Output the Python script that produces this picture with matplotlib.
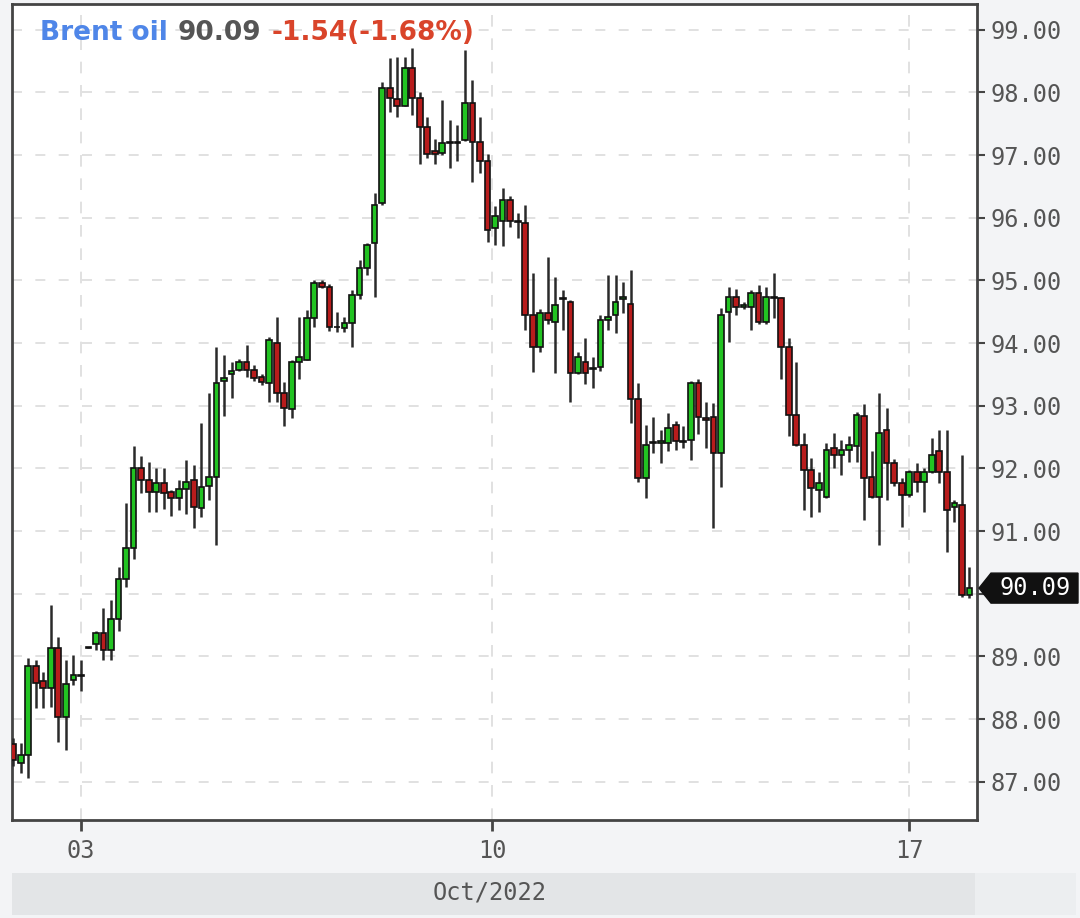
import matplotlib
matplotlib.use("Agg")
import matplotlib.pyplot as plt
from matplotlib.patches import Rectangle, Polygon
import numpy as np

# ---- data (intraday candles, Brent oil, Oct 2022) ----
opens = [87.60, 87.30, 87.43, 88.84, 88.60, 88.50, 89.14, 88.04, 88.62, 88.70,
         89.13, 89.20, 89.37, 89.10, 89.59, 90.24, 90.73, 92.00, 91.82, 91.62,
         91.77, 91.63, 91.53, 91.67, 91.82, 91.37, 91.72, 91.87, 93.40, 93.50,
         93.57, 93.70, 93.57, 93.46, 93.37, 94.00, 93.20, 92.95, 93.70, 93.73,
         94.40, 94.96, 94.90, 94.26, 94.24, 94.32, 94.76, 95.20, 95.59, 96.24,
         98.07, 97.90, 97.79, 98.39, 97.91, 97.44, 97.06, 97.04, 97.20, 97.20,
         97.24, 97.83, 97.21, 96.91, 95.84, 95.94, 96.29, 95.95, 95.92, 94.45,
         93.93, 94.48, 94.34, 94.70, 94.66, 93.53, 93.70, 93.58, 93.62, 94.37,
         94.45, 94.70, 94.63, 93.10, 91.85, 92.40, 92.41, 92.41, 92.70, 92.43,
         92.46, 93.37, 92.80, 92.82, 92.25, 94.50, 94.74, 94.58, 94.58, 94.80,
         94.34, 94.72, 94.72, 93.93, 92.86, 92.38, 91.98, 91.66, 91.55, 92.33,
         92.22, 92.30, 92.35, 92.84, 91.87, 91.55, 92.62, 92.09, 91.77, 91.58,
         91.95, 91.79, 91.95, 92.27, 91.95, 91.38, 91.42, 89.98]
highs = [87.70, 87.62, 88.98, 88.95, 88.75, 89.82, 89.31, 88.95, 89.02, 88.95,
         89.15, 89.40, 89.78, 89.90, 90.43, 91.45, 92.35, 92.20, 92.10, 92.00,
         92.00, 91.66, 91.82, 92.14, 92.06, 92.73, 93.20, 93.94, 93.81, 93.69,
         93.75, 93.97, 93.65, 93.50, 94.10, 94.42, 93.38, 93.73, 94.42, 94.52,
         95.00, 95.00, 94.95, 94.50, 94.42, 94.85, 95.33, 95.60, 96.40, 98.17,
         98.55, 98.57, 98.57, 98.71, 98.00, 97.60, 97.25, 97.88, 97.56, 97.48,
         98.68, 98.20, 97.60, 97.01, 96.18, 96.48, 96.35, 96.08, 96.21, 95.12,
         94.55, 95.38, 95.06, 94.85, 94.69, 93.85, 94.08, 93.77, 94.45, 95.09,
         95.09, 94.98, 95.17, 93.37, 92.70, 92.82, 92.62, 92.89, 92.75, 92.67,
         93.40, 93.43, 93.06, 93.05, 94.56, 94.90, 94.87, 94.65, 94.85, 94.93,
         94.90, 95.12, 94.74, 94.08, 93.69, 92.57, 92.17, 91.95, 92.41, 92.57,
         92.46, 92.52, 92.90, 93.02, 92.27, 93.21, 92.97, 92.15, 91.85, 91.98,
         92.09, 92.01, 92.49, 92.62, 92.62, 91.50, 92.22, 90.42]
lows = [87.25, 87.14, 87.06, 88.18, 88.18, 88.20, 87.64, 87.51, 88.55, 88.45,
        89.13, 89.10, 88.95, 88.95, 89.40, 90.10, 90.55, 91.60, 91.30, 91.30,
        91.35, 91.24, 91.34, 91.27, 91.05, 91.23, 91.50, 90.77, 92.83, 93.13,
        93.55, 93.46, 93.40, 93.33, 93.06, 93.06, 92.67, 92.81, 93.42, 93.73,
        94.25, 94.88, 94.20, 94.17, 94.17, 93.93, 94.70, 95.09, 94.74, 96.20,
        97.69, 97.60, 97.78, 97.64, 96.85, 96.95, 96.85, 97.00, 96.80, 96.90,
        97.22, 96.57, 96.72, 95.62, 95.57, 95.55, 95.85, 95.68, 94.21, 93.54,
        93.85, 94.30, 93.53, 94.21, 93.06, 93.50, 93.34, 93.29, 93.55, 94.21,
        94.16, 94.48, 92.73, 91.79, 91.53, 92.25, 92.09, 92.27, 92.30, 92.33,
        92.14, 92.55, 92.33, 91.05, 91.71, 94.02, 94.45, 94.55, 94.21, 94.30,
        94.30, 94.40, 93.42, 92.51, 92.35, 91.34, 91.23, 91.31, 91.53, 92.01,
        91.90, 92.10, 92.10, 91.18, 91.53, 90.78, 91.50, 91.72, 91.07, 91.55,
        91.63, 91.31, 91.93, 91.77, 90.67, 91.15, 89.95, 89.94]
closes = [87.35, 87.42, 88.84, 88.58, 88.50, 89.14, 88.04, 88.56, 88.70, 88.68,
          89.15, 89.38, 89.10, 89.59, 90.24, 90.73, 92.00, 91.82, 91.62, 91.77,
          91.60, 91.52, 91.67, 91.78, 91.39, 91.71, 91.87, 93.37, 93.45, 93.55,
          93.70, 93.57, 93.45, 93.38, 94.05, 93.20, 92.97, 93.70, 93.77, 94.40,
          94.96, 94.90, 94.26, 94.25, 94.32, 94.76, 95.20, 95.57, 96.21, 98.07,
          97.91, 97.79, 98.39, 97.91, 97.44, 97.01, 97.02, 97.20, 97.19, 97.21,
          97.83, 97.21, 96.90, 95.81, 96.02, 96.29, 95.94, 95.93, 94.45, 93.93,
          94.48, 94.37, 94.61, 94.72, 93.53, 93.78, 93.53, 93.60, 94.37, 94.42,
          94.66, 94.73, 93.10, 91.85, 92.38, 92.42, 92.43, 92.65, 92.43, 92.42,
          93.37, 92.82, 92.78, 92.25, 94.45, 94.74, 94.58, 94.60, 94.80, 94.34,
          94.74, 94.73, 93.93, 92.86, 92.38, 91.98, 91.69, 91.77, 92.30, 92.22,
          92.30, 92.38, 92.86, 91.85, 91.55, 92.57, 92.09, 91.77, 91.58, 91.95,
          91.79, 91.95, 92.22, 91.95, 91.34, 91.45, 89.98, 90.09]

date_ticks = [9, 63.6, 119]
date_labels = ["03", "10", "17"]
price_ticks = [87, 88, 89, 90, 91, 92, 93, 94, 95, 96, 97, 98, 99]
instrument = "Brent oil"
last_price = "90.09"
change_text = "-1.54(-1.68%)"
period_label = "Oct/2022"

# ---- figure ----
W, H = 1080, 918
fig = plt.figure(figsize=(W / 100, H / 100), dpi=100, facecolor="#f3f4f6")

# bottom band
fig.patches.append(Rectangle((12 / W, (918 - 915) / H), (975 - 12) / W, 42 / H,
                             transform=fig.transFigure, facecolor="#e3e5e7",
                             edgecolor="none", zorder=0))
fig.patches.append(Rectangle((975 / W, (918 - 915) / H), (1076 - 975) / W, 42 / H,
                             transform=fig.transFigure, facecolor="#eceef0",
                             edgecolor="none", zorder=0))

ax = fig.add_axes([12 / W, (918 - 820) / H, (977 - 12) / W, (820 - 4) / H])
ax.set_facecolor("white")

o = np.array(opens); h = np.array(highs); l = np.array(lows); c = np.array(closes)
x = np.arange(len(o))
up = c >= o
colors = np.where(up, "#22c322", "#b81c1c")

ax.vlines(x, l, h, color="#2a2a2a", linewidth=1.8, zorder=3)
body_h = np.maximum(np.abs(c - o), 0.012)
ax.bar(x, body_h, bottom=np.minimum(o, c), width=0.76, color=colors,
       edgecolor="#111111", linewidth=1.2, zorder=4)

ax.set_xlim(-0.15, 128.0)
ax.set_ylim(86.39, 99.41)

# grid
for yv in price_ticks:
    ax.axhline(yv, color="#dcdcdc", linewidth=1.2, linestyle=(0, (6, 8)), zorder=1)
for xv in date_ticks:
    ax.axvline(xv, color="#dcdcdc", linewidth=1.2, linestyle=(0, (7, 7)), zorder=1)

for s in ax.spines.values():
    s.set_color("#444444")
    s.set_linewidth(2)

ax.yaxis.tick_right()
ax.set_yticks(price_ticks)
# the 90.00 label sits under the last-price tag, as in the reference
ax.set_yticklabels(["" if v == 90 else "%.2f" % v for v in price_ticks])
ax.set_xticks(date_ticks)
ax.set_xticklabels(date_labels)
ax.tick_params(axis="y", direction="out", length=6, width=1.5, color="#444444",
               labelsize=17, labelcolor="#555555", pad=4)
ax.tick_params(axis="x", direction="out", length=8, width=2, color="#444444",
               labelsize=17, labelcolor="#555555", pad=6)
for lab in ax.get_yticklabels() + ax.get_xticklabels():
    lab.set_family("DejaVu Sans Mono")

fig.text(490 / W, 1 - 892 / H, period_label, ha="center", va="center",
         fontsize=17, color="#555555", family="DejaVu Sans Mono")

# title pieces
ty = 1 - 33 / H
t1 = fig.text(40 / W, ty, instrument, color="#4f86e8", weight="bold",
              fontsize=19, va="center", family="DejaVu Sans")
fig.canvas.draw()
r = fig.canvas.get_renderer()
bb = t1.get_window_extent(r)
t2 = fig.text((bb.x1 + 10) / W, ty, last_price, color="#555555", weight="bold",
              fontsize=19, va="center", family="DejaVu Sans")
bb2 = t2.get_window_extent(r)
fig.text((bb2.x1 + 10) / W, ty, change_text, color="#d9442a", weight="bold",
         fontsize=19, va="center", family="DejaVu Sans")

# last price tag
yd = ax.transData.transform((0, closes[-1]))[1]
hh = 15
pts = [(979, yd), (991, yd + hh), (1078, yd + hh), (1078, yd - hh), (991, yd - hh)]
pts = [(px / W, py / H) for px, py in pts]
fig.patches.append(Polygon(pts, closed=True, transform=fig.transFigure,
                           facecolor="#111111", edgecolor="#111111", zorder=5))
fig.text(1035 / W, yd / H, "%.2f" % closes[-1], color="white", ha="center",
         va="center", fontsize=17, family="DejaVu Sans Mono", zorder=6)

fig.savefig("out.png", dpi=100, facecolor=fig.get_facecolor())
